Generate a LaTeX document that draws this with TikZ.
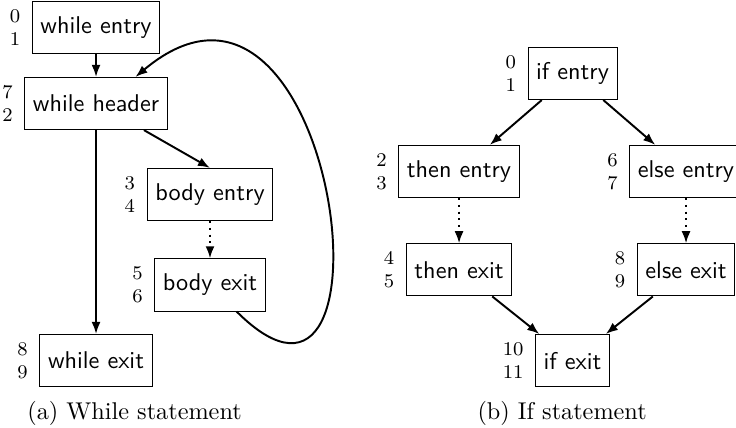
\documentclass[tikz,border=0pt]{standalone}
\usetikzlibrary{arrows.meta}

\tikzset{
  bb/.style={draw, font=\sffamily, minimum height=21.5pt},
  nums/.style 2 args={label={[font=\footnotesize\rmfamily, align=right,
      label distance=1.3pt]left:#1\\#2}},
  flow/.style={thick, -{Latex[length=5pt,width=3.7pt]}},
  skip/.style={flow, dotted}
}

\begin{document}
\begin{tikzpicture}[x=1pt,y=1pt]

\useasboundingbox (0,0) rectangle (303.5,-176.1);

\def\wx{39.6}   % while column
\def\bx{86.6}   % body column
\def\tx{189.3}  % then column
\def\ix{236.1}  % if column
\def\ex{282.9}  % else column

% (a) while statement
\node[bb, nums={0}{1}] (wentry) at (\wx,-11.3)  {while entry};
\node[bb, nums={7}{2}] (hdr)    at (\wx,-42.7)  {while header};
\node[bb, nums={3}{4}] (bentry) at (\bx,-80.2)  {body entry};
\node[bb, nums={5}{6}] (bexit)  at (\bx,-117.5) {body exit};
\node[bb, nums={8}{9}] (wexit)  at (\wx,-148.7) {while exit};

\draw[flow] (wentry) -- (hdr);
\draw[flow] (hdr) -- (wexit);
\draw[flow] (hdr.-29) -- (bentry.north);
\draw[skip] (bentry) -- (bexit);
\draw[flow] (bexit.-45) to[out=-45, in=40, out looseness=2.4,
  in looseness=2.65] (hdr.34);

\node[anchor=base] (capa) at (55.5,-172.8) {(a) While statement};

% (b) if statement
\node[bb, nums={0}{1}]   (ifentry) at (\ix,-30.3)  {if entry};
\node[bb, nums={2}{3}]   (tentry)  at (\tx,-70.7)  {then entry};
\node[bb, nums={6}{7}]   (eentry)  at (\ex,-70.7)  {else entry};
\node[bb, nums={4}{5}]   (texit)   at (\tx,-111.3) {then exit};
\node[bb, nums={8}{9}]   (eexit)   at (\ex,-111.3) {else exit};
\node[bb, nums={10}{11}] (ifexit)  at (\ix,-148.7) {if exit};

\draw[flow] (ifentry) -- (tentry);
\draw[flow] (ifentry) -- (eentry);
\draw[skip] (tentry) -- (texit);
\draw[skip] (eentry) -- (eexit);
\draw[flow] (texit) -- (ifexit);
\draw[flow] (eexit) -- (ifexit);

\node[anchor=base] (capb) at (231.8,-172.8) {(b) If statement};

\end{tikzpicture}
\end{document}
